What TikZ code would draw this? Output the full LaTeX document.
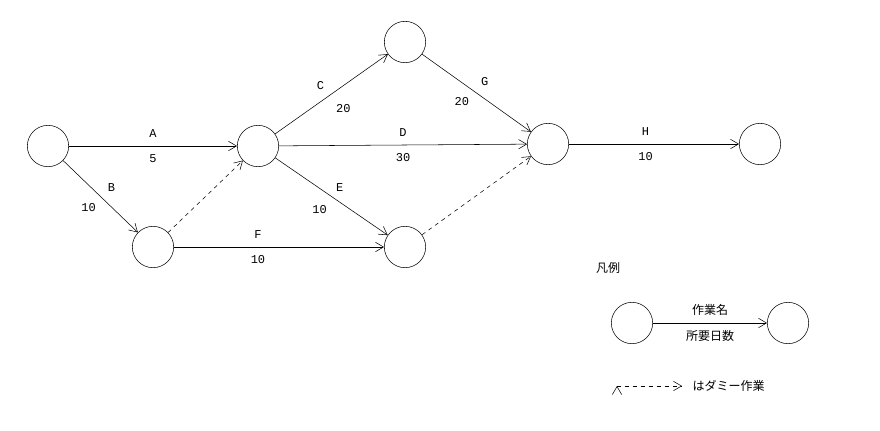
\documentclass[tikz,border=0pt]{standalone}
\usepackage{fontspec}
\setmonofont{Liberation Mono}
\newfontfamily\jpfont{Noto Sans CJK JP}
\usetikzlibrary{arrows.meta, positioning}

\begin{document}
\begin{tikzpicture}[x=0.75pt, y=-0.75pt, font=\ttfamily\small,
		c/.style={circle, draw, minimum size=31pt, inner sep=0pt},
		act/.style={draw, -{Straight Barb[length=6pt, width=7pt]}},
		dum/.style={act, dashed}]
		\useasboundingbox (0,0) rectangle (880,430);
		\node[c] (N1) at (48,146) {};
		\node[c] (N2) at (258,146) {};
		\node[c] (N3) at (153,247) {};
		\node[c] (N4) at (405,42) {};
		\node[c] (N5) at (405,247) {};
		\node[c] (N6) at (548,144) {};
		\node[c] (N7) at (760,144) {};

		\path[act] (N1) edge node[above=3pt] {A} node[below=3pt] {5} (N2);
		\path[act] (N1) edge node[above right=0pt and 2pt] {B} node[below left=2pt and 0pt] {10} (N3);
		\path[act] (N2) edge node[above left=0pt and 2pt] {C} node[below right=4pt and 0pt] {20} (N4);
		\path[act] (N2) edge node[above=3pt] {D} node[below=3pt] {30} (N6);
		\path[act] (N2) edge node[above right=0pt and 0pt] {E} node[below left=3pt and 0pt] {10} (N5);
		\path[act] (N3) edge node[pos=0.4, above=3pt] {F} node[pos=0.4, below=3pt] {10} (N5);
		\path[act] (N4) edge node[above right=2pt and 0pt] {G} node[below left=0pt and 2pt] {20} (N6);
		\path[act] (N6) edge node[pos=0.45, above=3pt] {H} node[pos=0.45, below=3pt] {10} (N7);
		\path[dum] (N3) edge (N2);
		\path[dum] (N5) edge (N6);

		% legend
		\node[font=\jpfont\small] (L_title) at (608,268) {凡例};
		\node[c] (L1) at (632,323) {};
		\node[c] (L2) at (788,323) {};
		\path[act] (L1) edge node[above=2pt, font=\jpfont\small] {作業名} node[below=2pt, font=\jpfont\small] {所要日数} (L2);
		\coordinate (D1) at (617,386);
		\coordinate (D2) at (682,386);
		\path[dum] (D1) edge (D2);
		\node[font=\jpfont\small, anchor=west] (L_dummy) at (688,386) {はダミー作業};
\end{tikzpicture}
\end{document}
